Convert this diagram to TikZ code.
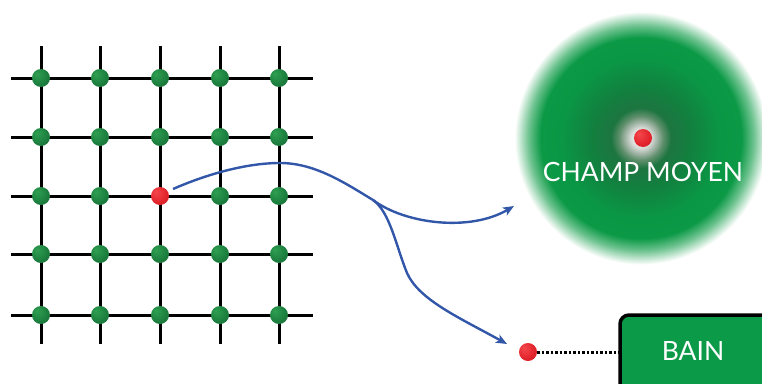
\documentclass[tikz,border=0pt]{standalone}
\usepackage{fontspec}
\setmainfont{Lato}
\usetikzlibrary{arrows.meta}
\definecolor{gl}{HTML}{2FA052}
\definecolor{gm}{HTML}{1C7E3E}
\definecolor{gd}{HTML}{115A2B}
\definecolor{rl}{HTML}{F4484C}
\definecolor{rm}{HTML}{E2242C}
\definecolor{rd}{HTML}{9E1820}
\definecolor{h1}{HTML}{D8DCD8}
\definecolor{h2}{HTML}{9FB3A4}
\definecolor{h3}{HTML}{5F8F6C}
\definecolor{h4}{HTML}{1D7540}
\definecolor{h5}{HTML}{12803F}
\definecolor{h6}{HTML}{0A9745}
\definecolor{h7}{HTML}{0B9946}
\definecolor{h8}{HTML}{6CC28E}
\definecolor{arrowblue}{HTML}{3256A8}
\definecolor{bathgreen}{HTML}{0B9A48}
\pgfdeclareradialshading{gball}{\pgfpoint{-12bp}{12bp}}{color(0bp)=(gl); color(25bp)=(gm); color(62bp)=(gd)}
\pgfdeclareradialshading{rball}{\pgfpoint{-12bp}{12bp}}{color(0bp)=(rl); color(25bp)=(rm); color(62bp)=(rd)}
\pgfdeclareradialshading{glow}{\pgfpoint{0bp}{0bp}}{color(0bp)=(white); color(10bp)=(h1); color(16bp)=(h2); color(22bp)=(h3); color(30bp)=(h4); color(50bp)=(h5); color(80bp)=(h6); color(100bp)=(h7); color(112bp)=(h8); color(126bp)=(white); color(130bp)=(white)}
\tikzset{
  gridline/.style={line width=3pt, black},
  site/.style={circle, minimum size=18pt, inner sep=0pt, shading=gball},
  redsite/.style={circle, minimum size=18pt, inner sep=0pt, shading=rball},
  flow/.style={line width=2.4pt, arrowblue, -{Stealth[length=11pt,width=9pt,inset=3pt]}},
  flowplain/.style={line width=2.4pt, arrowblue},
  label/.style={text=white, font=\fontsize{26.5}{30}\selectfont, inner sep=0pt},
}
\begin{document}
\begin{tikzpicture}[x=1pt,y=-1pt]
\useasboundingbox (0,0) rectangle (762,383);
% grid lines
\foreach \y in {78,137,196,254,315} {
  \coordinate (hl\y) at (11,\y); \coordinate (hr\y) at (313,\y);
  \draw[gridline] (hl\y) -- (hr\y);
}
\foreach \x in {41,100,160,220,279} {
  \coordinate (vt\x) at (\x,46); \coordinate (vb\x) at (\x,344);
  \draw[gridline] (vt\x) -- (vb\x);
}
% sites
\foreach \x [count=\i] in {41,100,160,220,279} {
  \foreach \y [count=\j] in {78,137,196,254,315} {
    \ifnum\i=3 \ifnum\j=3 \else \node[site] (s\i\j) at (\x,\y) {}; \fi
    \else \node[site] (s\i\j) at (\x,\y) {}; \fi
  }
}
\node[redsite] (s33) at (160,196) {};
% mean field glow
\begin{scope}
\clip (0,0) rectangle (762,383);
\node[inner sep=0pt] (glow) at (641,138) {\pgfuseshading{glow}};
\end{scope}
\node[redsite] (mf) at (643,138) {};
\node[label] (champ) at (643,172) {CHAMP MOYEN};
% bath
\draw[line width=3.5pt, black, fill=bathgreen, rounded corners=9pt] (620,315) rectangle (785,400);
\coordinate (bathw) at (620,352);
\node[label] (bain) at (693,351) {BAIN};
\node[redsite] (bd) at (528,352) {};
\draw[line width=3pt, dash pattern=on 2.5pt off 2pt] (bd.east) -- (bathw);
% arrows
\coordinate (peak) at (280,163);
\coordinate (split) at (373,200);
\coordinate (tip1) at (514,206);
\coordinate (mid2) at (407,273);
\coordinate (tip2) at (507,344);
\draw[flowplain] (173,189) .. controls (205,175) and (245,163) .. (peak)
  .. controls (315,163) and (345,183) .. (split);
\draw[flow] (split) .. controls (405,224) and (470,232) .. (tip1);
\draw[flow] (split) .. controls (390,212) and (396,246) .. (mid2)
  .. controls (419,300) and (460,318) .. (tip2);
\end{tikzpicture}
\end{document}
